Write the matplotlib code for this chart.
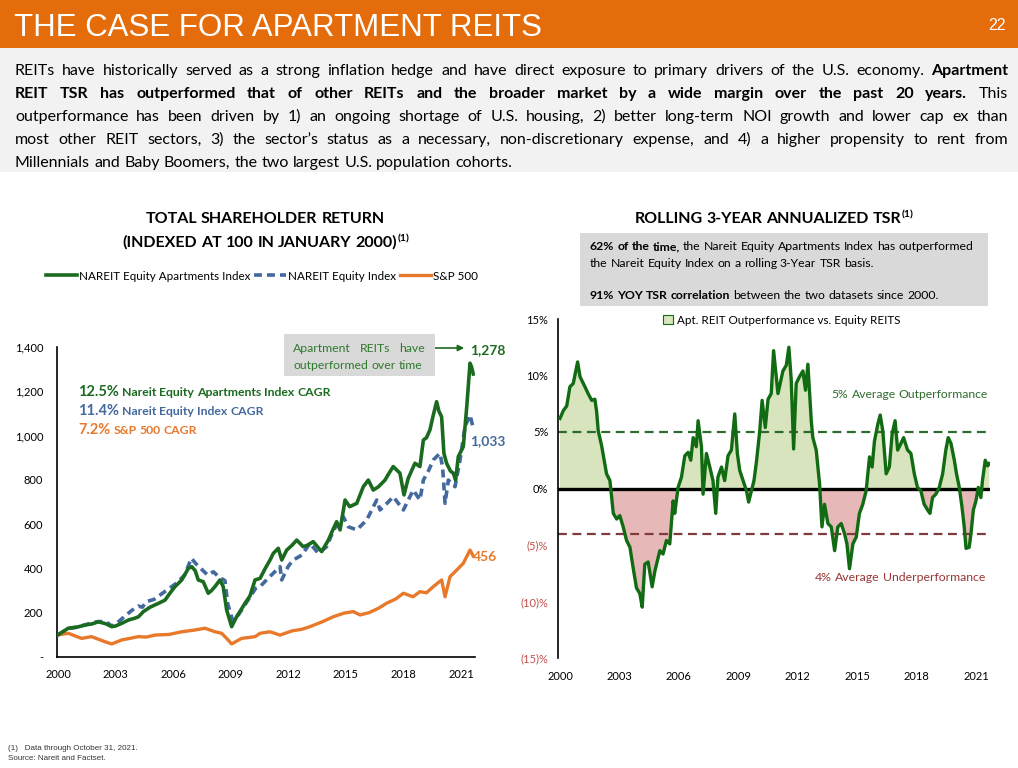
import matplotlib
matplotlib.use('Agg')
import matplotlib.pyplot as plt
from matplotlib.patches import Rectangle, Patch
import numpy as np

W, H = 1018, 768
FONT = ['Lato', 'DejaVu Sans']
NARROW = ['Liberation Sans Narrow', 'Liberation Sans', 'DejaVu Sans']

HEADER = '#e46c0a'
GREEN = '#1a6b1f'
BLUE = '#44699e'
ORANGE = '#e8792b'
LINEGREEN = '#116b12'
POSFILL = '#d7e4bd'
NEGFILL = '#e6b9b8'
NEGTXT = '#c0504d'

# ---- data: total shareholder return (indexed to 100, Jan 2000) ----
apt_t = [2000.0, 2000.54, 2001.0, 2001.4, 2001.8, 2002.1, 2002.5, 2002.8, 2003.0, 2003.32,
         2003.7, 2004.0, 2004.2, 2004.45, 2004.8, 2005.05, 2005.3, 2005.58, 2005.85, 2006.1,
         2006.45, 2006.8, 2006.97, 2007.15, 2007.31, 2007.57, 2007.83, 2008.0, 2008.18, 2008.44,
         2008.61, 2008.79, 2009.05, 2009.31, 2009.55, 2009.74, 2010.0, 2010.27, 2010.53, 2010.8,
         2011.05, 2011.22, 2011.48, 2011.66, 2011.92, 2012.2, 2012.44, 2012.78, 2013.0, 2013.3,
         2013.5, 2013.74, 2014.09, 2014.3, 2014.52, 2014.7, 2014.96, 2015.2, 2015.57, 2015.91,
         2016.17, 2016.43, 2016.7, 2017.04, 2017.25, 2017.47, 2017.82, 2018.03, 2018.25, 2018.6,
         2018.86, 2019.04, 2019.2, 2019.38, 2019.55, 2019.73, 2019.85, 2019.99, 2020.11, 2020.25,
         2020.45, 2020.6, 2020.72, 2020.86, 2021.12, 2021.3, 2021.47, 2021.55, 2021.64]
apt_v = [100, 130, 135, 144, 150, 159, 150, 137, 140, 152,
         168, 175, 182, 205, 225, 235, 245, 257, 290, 318,
         348, 401, 408, 390, 348, 340, 288, 300, 318, 348,
         318, 212, 137, 182, 215, 242, 275, 348, 355, 400,
         438, 468, 491, 438, 483, 505, 528, 498, 505, 521,
         500, 476, 528, 570, 611, 574, 709, 679, 694, 769,
         799, 754, 769, 799, 830, 860, 830, 732, 807, 875,
         860, 980, 990, 1025, 1090, 1153, 1110, 1085, 920, 875,
         840, 830, 799, 905, 950, 1130, 1327, 1310, 1278]

eq_t = [2000.0, 2000.54, 2001.0, 2001.4, 2001.8, 2002.1, 2002.5, 2002.8, 2003.0, 2003.5,
        2003.84, 2004.18, 2004.4, 2004.6, 2005.0, 2005.4, 2005.8, 2006.2, 2006.6, 2006.95,
        2007.2, 2007.5, 2007.8, 2008.1, 2008.4, 2008.7, 2008.85, 2009.1, 2009.4, 2009.7,
        2010.0, 2010.3, 2010.53, 2011.0, 2011.3, 2011.57, 2011.66, 2012.0, 2012.26, 2012.7,
        2013.13, 2013.57, 2014.0, 2014.3, 2014.6, 2014.87, 2015.13, 2015.57, 2016.09, 2016.61,
        2016.78, 2017.1, 2017.47, 2018.0, 2018.51, 2018.86, 2019.04, 2019.3, 2019.56, 2019.9,
        2020.04, 2020.17, 2020.34, 2020.69, 2020.95, 2021.21, 2021.47, 2021.64]
eq_v = [100, 128, 135, 145, 155, 160, 160, 140, 148, 185,
        210, 230, 225, 250, 260, 285, 310, 335, 370, 446,
        420, 395, 370, 385, 360, 345, 240, 165, 190, 230,
        270, 310, 318, 360, 385, 408, 348, 410, 438, 460,
        513, 468, 498, 560, 611, 633, 588, 574, 619, 709,
        664, 690, 724, 664, 754, 709, 799, 840, 890, 920,
        860, 694, 799, 769, 890, 1040, 1093, 1033]

sp_t = [2000.0, 2000.54, 2001.23, 2001.75, 2002.45, 2002.8, 2003.32, 2003.8, 2004.18, 2004.6,
        2005.05, 2005.8, 2006.45, 2007.14, 2007.66, 2008.18, 2008.53, 2008.79, 2009.05, 2009.57,
        2010.27, 2010.53, 2011.05, 2011.57, 2012.2, 2012.7, 2013.13, 2013.8, 2014.35, 2014.9,
        2015.39, 2015.74, 2016.2, 2016.7, 2017.13, 2017.6, 2018.0, 2018.5, 2018.86, 2019.2,
        2019.56, 2019.99, 2020.17, 2020.43, 2020.78, 2021.12, 2021.47, 2021.64]
sp_v = [100, 107, 84, 92, 69, 59, 77, 85, 92, 90,
        99, 102, 114, 122, 130, 114, 107, 84, 59, 84,
        92, 107, 114, 99, 118, 125, 137, 160, 182, 198,
        205, 190, 200, 220, 243, 262, 288, 272, 295, 290,
        318, 348, 272, 363, 393, 423, 483, 456]

# ---- data: rolling 3-year annualized TSR, apartments minus equity REITs (%) ----
out_t = [2000.0, 2000.17, 2000.34, 2000.5, 2000.67, 2000.89, 2001.01, 2001.26, 2001.42, 2001.6,
         2001.76, 2001.85, 2001.93, 2002.1, 2002.35, 2002.52, 2002.69, 2002.86, 2003.02, 2003.19,
         2003.36, 2003.53, 2003.69, 2003.86, 2004.03, 2004.15, 2004.28, 2004.45, 2004.65, 2004.79,
         2005.04, 2005.2, 2005.37, 2005.54, 2005.71, 2005.79, 2005.96, 2006.13, 2006.3, 2006.47,
         2006.6, 2006.72, 2006.88, 2006.97, 2007.14, 2007.22, 2007.39, 2007.56, 2007.72, 2007.86,
         2007.97, 2008.15, 2008.31, 2008.48, 2008.65, 2008.82, 2008.95, 2009.07, 2009.24, 2009.41,
         2009.52, 2009.66, 2009.79, 2009.91, 2010.08, 2010.2, 2010.36, 2010.5, 2010.66, 2010.78,
         2011.0, 2011.25, 2011.42, 2011.55, 2011.67, 2011.79, 2011.92, 2012.09, 2012.26, 2012.39,
         2012.51, 2012.68, 2012.76, 2012.93, 2013.1, 2013.22, 2013.35, 2013.52, 2013.69, 2013.86,
         2014.02, 2014.19, 2014.36, 2014.48, 2014.61, 2014.78, 2014.95, 2015.11, 2015.28, 2015.45,
         2015.62, 2015.75, 2015.87, 2016.04, 2016.16, 2016.29, 2016.46, 2016.62, 2016.76, 2016.91,
         2017.04, 2017.21, 2017.34, 2017.54, 2017.71, 2017.88, 2018.04, 2018.21, 2018.38, 2018.55,
         2018.67, 2018.8, 2018.97, 2019.14, 2019.31, 2019.47, 2019.59, 2019.73, 2019.9, 2020.01,
         2020.15, 2020.29, 2020.4, 2020.49, 2020.65, 2020.74, 2020.86, 2020.99, 2021.11, 2021.24,
         2021.32, 2021.46, 2021.58, 2021.66]
out_v = [6.2, 6.9, 7.3, 9.0, 9.3, 11.2, 9.9, 9.0, 8.4, 7.8,
         7.9, 6.8, 5.1, 3.8, 1.3, 0.7, -2.2, -2.7, -2.4, -3.4,
         -4.6, -5.2, -7.0, -8.8, -9.3, -10.5, -6.7, -6.5, -8.7, -7.3,
         -5.5, -5.8, -4.6, -4.9, -1.1, -2.2, 0.1, 1.0, 2.9, 3.2,
         2.5, 4.5, 3.7, 6.0, 3.7, -0.5, 3.1, 1.9, 0.7, -2.2,
         1.0, 1.9, 0.7, 2.9, 3.4, 6.6, 3.1, 1.6, 0.7, -0.2,
         -1.2, -0.2, 0.7, 2.3, 5.1, 7.8, 5.4, 7.9, 8.4, 12.2,
         8.4, 10.4, 10.9, 12.5, 9.6, 3.5, 9.3, 9.9, 10.4, 8.7,
         11.0, 6.0, 4.5, 3.4, 0.4, -3.4, -1.4, -3.1, -3.4, -5.5,
         -3.4, -3.1, -4.0, -4.9, -7.1, -4.9, -4.3, -2.2, -1.4, -0.2,
         2.8, 1.9, 4.2, 5.7, 6.5, 5.1, 1.3, 1.9, 4.8, 6.0,
         3.4, 4.0, 4.5, 3.4, 3.1, 1.3, 0.1, -0.2, -1.4, -1.9,
         -2.2, -0.8, -0.5, 0.1, 1.3, 3.4, 4.5, 4.0, 2.5, 1.3,
         0.1, -1.7, -3.4, -5.3, -5.2, -4.0, -1.9, -1.1, 0.1, -0.8,
         0.7, 2.5, 2.0, 2.2]
avg_out = 5
avg_under = -4

years = [2000, 2003, 2006, 2009, 2012, 2015, 2018, 2021]
tsr_ticks = [0, 200, 400, 600, 800, 1000, 1200, 1400]
tsr_labels = ['-', '200', '400', '600', '800', '1,000', '1,200', '1,400']
roll_ticks = [-15, -10, -5, 0, 5, 10, 15]
roll_labels = ['(15)%', '(10)%', '(5)%', '0%', '5%', '10%', '15%']

fig = plt.figure(figsize=(W / 100, H / 100), dpi=100)
renderer = fig.canvas.get_renderer()


def fx(x):
    return x / W


def fy(y):
    return 1 - y / H


def box(x0, y0, x1, y1, color, z=1):
    fig.add_artist(Rectangle((fx(x0), fy(y1)), (x1 - x0) / W, (y1 - y0) / H,
                             transform=fig.transFigure, color=color, zorder=z, lw=0))


_widths = {}


def tw(s, size, bold):
    key = (s, size, bold)
    if key not in _widths:
        t = fig.text(0, 0, s, fontsize=size, fontweight='bold' if bold else 'normal', family=FONT)
        _widths[key] = t.get_window_extent(renderer).width
        t.remove()
    return _widths[key]


def adv(p, nxt):
    # advance of piece p when another piece follows it directly
    return tw(p[0] + nxt[0], p[1], p[2]) - tw(nxt[0], p[1], p[2])


def seg(text, size, bold=False, color='black', rise=0):
    return (text, size, bold, color, rise)


def runs(x, y, segs, ha='left', width=None, z=5):
    # lay out mixed-style text word by word; width -> justified line
    words = []
    glue = False
    for s in segs:
        parts = s[0].split(' ')
        for i, p in enumerate(parts):
            if not p:
                continue
            if i == 0 and glue and words:
                words[-1].append((p,) + s[1:])
            else:
                words.append([(p,) + s[1:]])
        glue = not s[0].endswith(' ')
    wl = []
    for w in words:
        wl.append(sum(adv(w[k], w[k + 1]) for k in range(len(w) - 1)) + tw(w[-1][0], w[-1][1], w[-1][2]))
    if width is not None and len(words) > 1:
        gaps = [(width - sum(wl)) / (len(words) - 1)] * (len(words) - 1)
    else:
        gaps = [tw('x x', w[0][1], w[0][2]) - tw('xx', w[0][1], w[0][2]) for w in words[1:]]
    total = sum(wl) + sum(gaps)
    if ha == 'center':
        x -= total / 2
    elif ha == 'right':
        x -= total
    cx = x
    for i, w in enumerate(words):
        for k, (txt, size, bold, color, rise) in enumerate(w):
            fig.text(fx(cx), fy(y - rise), txt, fontsize=size, color=color,
                     fontweight='bold' if bold else 'normal', family=FONT,
                     ha='left', va='baseline', zorder=z)
            if k < len(w) - 1:
                cx += adv(w[k], w[k + 1])
            else:
                cx += tw(txt, size, bold)
        if i < len(gaps):
            cx += gaps[i]
    return total


# ---- header and intro text ----
box(0, 0, W, 48, HEADER, z=0)
box(0, 48, W, 172, '#f2f2f2', z=0)
fig.text(fx(14), fy(36), 'THE CASE FOR APARTMENT REITS', color='white', fontsize=22.5,
         family=NARROW, va='baseline')
fig.text(fx(1006), fy(30), '22', color='white', fontsize=11.5, family=NARROW,
         ha='right', va='baseline')

BS = 11.5
body = [
    [seg('REITs have historically served as a strong inflation hedge and have direct exposure '
         'to primary drivers of the U.S. economy. ', BS), seg('Apartment', BS, True)],
    [seg('REIT TSR has outperformed that of other REITs and the broader market by a wide '
         'margin over the past 20 years.', BS, True), seg(' This', BS)],
    [seg('outperformance has been driven by 1) an ongoing shortage of U.S. housing, 2) better '
         'long-term NOI growth and lower cap ex than', BS)],
    [seg('most other REIT sectors, 3) the sector\u2019s status as a necessary, non-discretionary '
         'expense, and 4) a higher propensity to rent from', BS)],
    [seg('Millennials and Baby Boomers, the two largest U.S. population cohorts.', BS)],
]
for i, line in enumerate(body):
    runs(15, 75 + 23 * i, line, width=None if i == len(body) - 1 else 993)

# ---- left chart: total shareholder return ----
runs(265, 223, [seg('TOTAL SHAREHOLDER RETURN', 11.5, True)], ha='center')
runs(266, 247, [seg('(INDEXED AT 100 IN JANUARY 2000)', 11.5, True), seg('(1)', 7.5, True, rise=6)],
     ha='center')

ax1 = fig.add_axes([fx(57), fy(657), (475 - 57) / W, (657 - 347) / H])
l_apt, = ax1.plot(apt_t, apt_v, color=GREEN, lw=2.6, zorder=3, solid_joinstyle='round')
l_eq, = ax1.plot(eq_t, eq_v, color=BLUE, lw=2.6, ls=(0, (2.2, 1.4)), zorder=2)
l_sp, = ax1.plot(sp_t, sp_v, color=ORANGE, lw=2.4, zorder=2)
ax1.set_xlim(1999.95, 2021.73)
ax1.set_ylim(0, 1400)
ax1.set_xticks(years)
ax1.set_xticklabels([str(y) for y in years])
ax1.set_yticks(tsr_ticks)
ax1.set_yticklabels(tsr_labels)
ax1.tick_params(length=0, labelsize=8)
ax1.tick_params(axis='y', pad=10)
ax1.tick_params(axis='x', pad=9)
for lab in ax1.get_xticklabels() + ax1.get_yticklabels():
    lab.set_family(FONT)
for side in ['top', 'right']:
    ax1.spines[side].set_visible(False)
ax1.spines['left'].set_linewidth(1.2)
ax1.spines['bottom'].set_linewidth(1.2)
ax1.legend([l_apt, l_eq, l_sp], ['NAREIT Equity Apartments Index', 'NAREIT Equity Index', 'S&P 500'],
           loc='center', bbox_to_anchor=(fx(262), fy(276)), bbox_transform=fig.transFigure,
           ncol=3, frameon=False, handlelength=2.7, handletextpad=0.2,
           columnspacing=0.3, prop={'family': FONT, 'size': 8.4})

cagr = [('12.5%', ' Nareit Equity Apartments Index CAGR', GREEN),
        ('11.4%', ' Nareit Equity Index CAGR', BLUE),
        ('7.2%', ' S&P 500 CAGR', ORANGE)]
for i, (pct, name, col) in enumerate(cagr):
    runs(78, 396 + 19 * i, [seg(pct, 10.5, True, col), seg(name, 8.8, True, col)])

box(284, 334, 435, 376, '#d9d9d9', z=4)
runs(293, 352, [seg('Apartment REITs have', 8.8, color='#2e7a2e')], width=132)
runs(293, 369, [seg('outperformed over time', 8.8, color='#2e7a2e')])
ax1.annotate('', xy=(fx(467), fy(348)), xytext=(fx(427), fy(348)),
             xycoords='figure fraction', textcoords='figure fraction',
             arrowprops=dict(arrowstyle='-|>', color=GREEN, lw=1.2, mutation_scale=9))
runs(470, 354, [seg('1,278', 10, True, GREEN)])
runs(470, 445, [seg('1,033', 10, True, BLUE)])
runs(473, 561, [seg('456', 10, True, ORANGE)])

# ---- right chart: rolling 3-year annualized TSR ----
runs(774, 223, [seg('ROLLING 3-YEAR ANNUALIZED TSR', 11.5, True), seg('(1)', 7.5, True, rise=6)],
     ha='center')
box(580, 233, 988, 306, '#d9d9d9', z=1)
runs(590, 250, [seg('62% of the time,', 8.8, True),
                seg(' the Nareit Equity Apartments Index has outperformed', 8.8)])
runs(590, 267, [seg('the Nareit Equity Index on a rolling 3-Year TSR basis.', 8.8)])
runs(590, 299, [seg('91% YOY TSR correlation', 8.8, True),
                seg(' between the two datasets since 2000.', 8.8)])

ax2 = fig.add_axes([fx(558), fy(658), (990 - 558) / W, (658 - 319) / H])
t = np.array(out_t)
v = np.array(out_v)
ax2.fill_between(t, v, 0, where=v >= 0, interpolate=True, color=POSFILL, lw=0, zorder=1)
ax2.fill_between(t, v, 0, where=v <= 0, interpolate=True, color=NEGFILL, lw=0, zorder=1)
ax2.axhline(avg_out, color='#2f6b2f', lw=1.6, ls=(0, (4, 2.5)), zorder=2)
ax2.axhline(avg_under, color='#7f3b3b', lw=1.6, ls=(0, (4, 2.5)), zorder=2)
ax2.axhline(0, color='black', lw=2.4, zorder=3)
ax2.plot(t, v, color=LINEGREEN, lw=2.4, zorder=4, solid_joinstyle='round')
ax2.set_xlim(1999.9, 2021.7)
ax2.set_ylim(-15, 15)
ax2.set_xticks(years)
ax2.set_xticklabels([str(y) for y in years])
ax2.set_yticks(roll_ticks)
ax2.set_yticklabels(roll_labels)
ax2.tick_params(length=0, labelsize=8)
ax2.tick_params(axis='y', pad=7)
ax2.tick_params(axis='x', pad=9)
for lab in ax2.get_xticklabels() + ax2.get_yticklabels():
    lab.set_family(FONT)
for lab, val in zip(ax2.get_yticklabels(), roll_ticks):
    if val < 0:
        lab.set_color(NEGTXT)
for side in ['top', 'right', 'bottom']:
    ax2.spines[side].set_visible(False)
ax2.spines['left'].set_linewidth(1.2)
ax2.legend([Patch(facecolor=POSFILL, edgecolor=LINEGREEN, lw=0.8)],
           ['Apt. REIT Outperformance vs. Equity REITS'],
           loc='center', bbox_to_anchor=(fx(782), fy(320)), bbox_transform=fig.transFigure,
           frameon=False, handlelength=0.8, handleheight=0.8, handletextpad=0.4,
           prop={'family': FONT, 'size': 8.4})
runs(988, 398, [seg('5% Average Outperformance', 8.7, color='#2f6b2f')], ha='right')
runs(985, 581, [seg('4% Average Underperformance', 8.8, color='#9b3535')], ha='right')

# ---- footnotes ----
fig.text(fx(8), fy(750), '(1)   Data through October 31, 2021.', fontsize=5.8,
         family=['Liberation Sans', 'DejaVu Sans'], color='#333333', va='baseline')
fig.text(fx(8), fy(760), 'Source: Nareit and Factset.', fontsize=5.8,
         family=['Liberation Sans', 'DejaVu Sans'], color='#333333', va='baseline')

fig.savefig('out.png', dpi=100)
